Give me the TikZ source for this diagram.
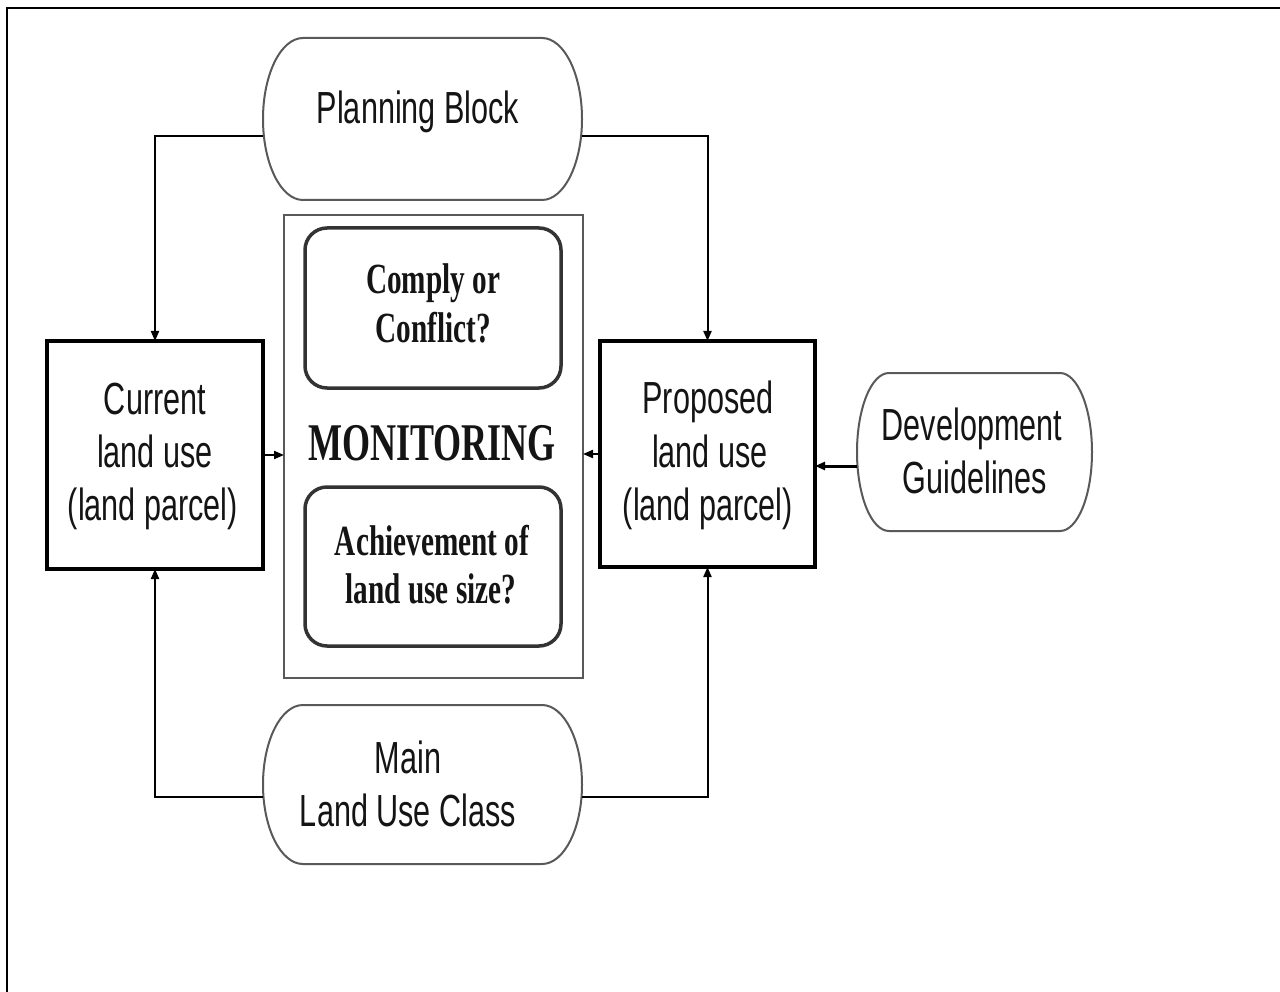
\documentclass[tikz,border=0pt]{standalone}
\usepackage{fontspec}
\usetikzlibrary{arrows.meta}
\newfontfamily\labelsans{Liberation Sans}[FakeStretch=0.68]
\newfontfamily\labelserif{Liberation Serif}[FakeStretch=0.68]

% stadium outline: x1 y1 x2 y2 end-radius-x end-radius-y
\newcommand\drawstadium[6]{%
  \draw[stadline] (#1+#5,#2) -- (#3-#5,#2)
    arc[start angle=90,end angle=-90,x radius=#5pt,y radius=#6pt]
    -- (#1+#5,#4)
    arc[start angle=270,end angle=90,x radius=#5pt,y radius=#6pt] -- cycle;}

\begin{document}
\begin{tikzpicture}[x=1pt,y=-1pt,
  stadline/.style={draw=black!65,line width=2pt,fill=white},
  holder/.style={inner sep=0pt,outer sep=0pt,draw=none},
  mainbox/.style={holder,draw=black,line width=4pt,fill=white},
  framebox/.style={holder,draw=black!65,line width=2.5pt},
  qbox/.style={holder,draw=black!80,line width=3.5pt,rounded corners=22pt,fill=white},
  sanstxt/.style={inner sep=0pt,anchor=base,text=black!92,font=\labelsans\fontsize{45}{54}\selectfont},
  seriftxt/.style={inner sep=0pt,anchor=base,text=black!92,font=\labelserif\bfseries\fontsize{43}{50}\selectfont},
  conn/.style={draw=black,line width=2pt,-{Triangle[length=10pt,width=8pt]}},
]
\useasboundingbox (0,0) rectangle (1280,992);

% page frame
\draw[line width=2.5pt] (7,992) -- (7,8) -- (1280,8);

% rounded input shapes
\drawstadium{263}{38}{582}{200}{40}{81}
\drawstadium{263}{705}{582}{864}{40}{79.5}
\drawstadium{857}{373}{1092}{531}{32}{79}
\node[holder,minimum width=319pt,minimum height=162pt] (plan) at (422.5,119) {};
\node[holder,minimum width=319pt,minimum height=159pt] (main) at (422.5,784.5) {};
\node[holder,minimum width=235pt,minimum height=158pt] (dev) at (974.5,452) {};

% land use boxes
\node[mainbox,minimum width=216pt,minimum height=228pt] (cur) at (155,455) {};
\node[mainbox,minimum width=215pt,minimum height=226pt] (prop) at (707.5,454) {};

% monitoring block
\node[framebox,minimum width=299pt,minimum height=463pt] (mon) at (433.5,446.5) {};
\node[qbox,minimum width=256pt,minimum height=160pt] (comply) at (433,308) {};
\node[qbox,minimum width=256pt,minimum height=159pt] (achieve) at (433,566.5) {};

% texts
\node[sanstxt] (plan-t) at (418,124) {Planning Block};
\node[sanstxt] (main-t1) at (408,773) {Main};
\node[sanstxt] (main-t2) at (408,826) {Land Use Class};
\node[sanstxt] (dev-t1) at (972,440) {Development};
\node[sanstxt] (dev-t2) at (975,493) {Guidelines};
\node[sanstxt] (cur-t1) at (155,414) {Current};
\node[sanstxt] (cur-t2) at (155,467) {land use};
\node[sanstxt] (cur-t3) at (153,520) {(land parcel)};
\node[sanstxt] (prop-t1) at (708,413) {Proposed};
\node[sanstxt] (prop-t2) at (710,467) {land use};
\node[sanstxt] (prop-t3) at (708,520) {(land parcel)};
\node[seriftxt] (comply-t1) at (433,294) {Comply or};
\node[seriftxt] (comply-t2) at (433,343) {Conflict?};
\node[seriftxt,font=\labelserif\bfseries\fontsize{53}{60}\selectfont] (mon-t) at (432,460) {MONITORING};
\node[seriftxt] (achieve-t1) at (432,555) {Achievement of};
\node[seriftxt] (achieve-t2) at (431,603) {land use size?};

% connectors
\draw[conn] ([yshift=-17pt]plan.west) -| (cur.north);
\draw[conn] ([yshift=-17pt]plan.east) -| (prop.north);
\draw[conn] ([yshift=-12.5pt]main.west) -| (cur.south);
\draw[conn] ([yshift=-12.5pt]main.east) -| (prop.south);
\draw[conn] (cur.east) -- (cur.east -| mon.west);
\draw[conn] (prop.west) -- (prop.west -| mon.east);
\coordinate (devout) at ([yshift=-14pt]dev.west);
\draw[conn,line width=3pt] (devout) -- (devout -| prop.east);
\end{tikzpicture}
\end{document}
